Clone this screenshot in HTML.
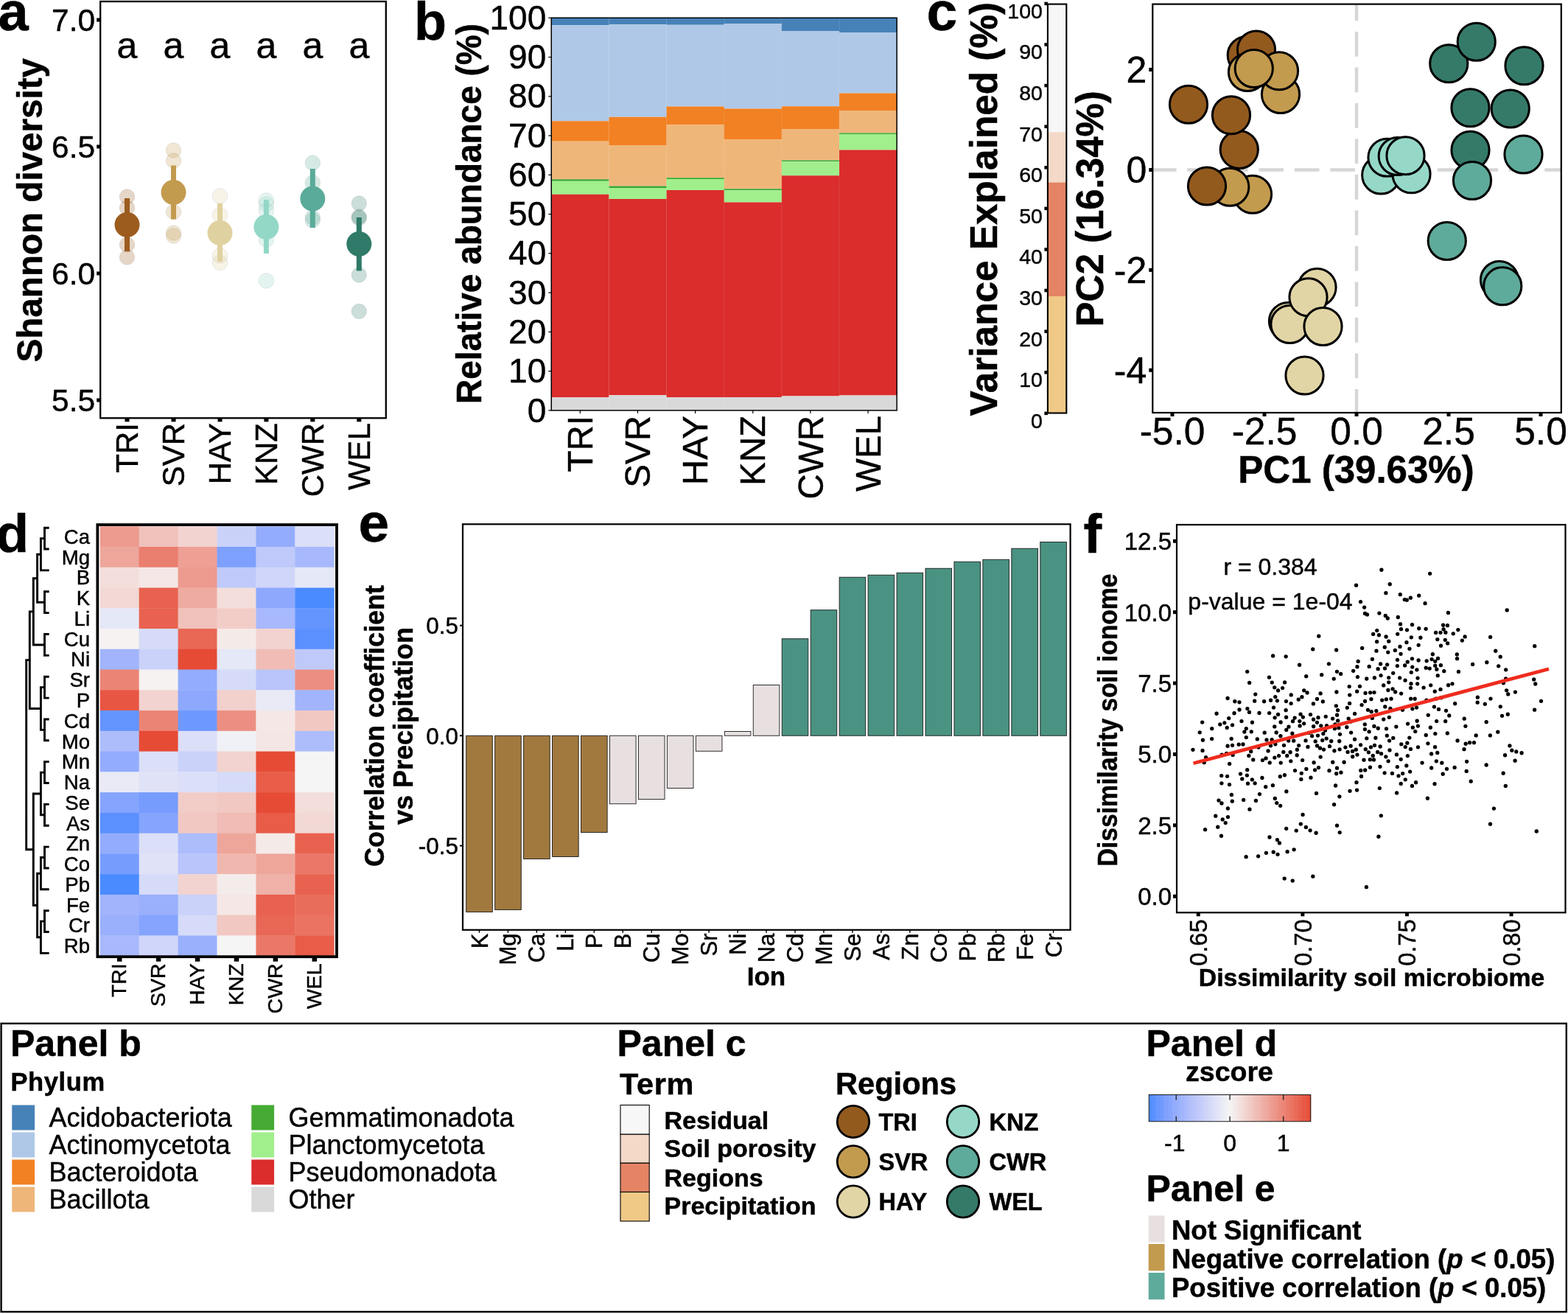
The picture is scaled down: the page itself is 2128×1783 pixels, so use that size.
<!DOCTYPE html>
<html lang="en">
<head>
<meta charset="utf-8">
<title>Soil microbiome and ionome figure</title>
<style>
html,body{margin:0;padding:0;background:#fff;}
body{width:2128px;height:1783px;overflow:hidden;}
svg{display:block;font-family:"Liberation Sans", Arial, Helvetica, sans-serif;}
svg text{font-family:"Liberation Sans", Arial, Helvetica, sans-serif;}
</style>
</head>
<body>
<svg width="2128" height="1783" viewBox="0 0 2128 1783">
<rect x="0" y="0" width="2128" height="1783" fill="#fff"/>
<rect x="136.2" y="2" width="387.6" height="565.3" fill="none" stroke="#000" stroke-width="2.3"/>
<text x="-2.5" y="41.3" font-size="74" font-weight="bold" stroke="#000" stroke-width="0.5">a</text>
<line x1="131.2" y1="27" x2="136.2" y2="27" stroke="#000" stroke-width="5"/>
<text x="129.2" y="41.6" font-size="42.5" text-anchor="end" stroke="#000" stroke-width="0.45">7.0</text>
<line x1="131.2" y1="199" x2="136.2" y2="199" stroke="#000" stroke-width="5"/>
<text x="129.2" y="213.6" font-size="42.5" text-anchor="end" stroke="#000" stroke-width="0.45">6.5</text>
<line x1="131.2" y1="371" x2="136.2" y2="371" stroke="#000" stroke-width="5"/>
<text x="129.2" y="385.6" font-size="42.5" text-anchor="end" stroke="#000" stroke-width="0.45">6.0</text>
<line x1="131.2" y1="543" x2="136.2" y2="543" stroke="#000" stroke-width="5"/>
<text x="129.2" y="557.6" font-size="42.5" text-anchor="end" stroke="#000" stroke-width="0.45">5.5</text>
<text x="57" y="285.2" font-size="47.6" font-weight="bold" text-anchor="middle" transform="rotate(-90 57 285.2)" stroke="#000" stroke-width="0.5">Shannon diversity</text>
<circle cx="172.5" cy="267" r="10.3" fill="#9c5c1e" stroke="#3a3a3a" stroke-width="0.8" fill-opacity="0.25" stroke-opacity="0.13"/>
<circle cx="172.5" cy="282" r="10.3" fill="#9c5c1e" stroke="#3a3a3a" stroke-width="0.8" fill-opacity="0.25" stroke-opacity="0.13"/>
<circle cx="172.5" cy="332" r="10.3" fill="#9c5c1e" stroke="#3a3a3a" stroke-width="0.8" fill-opacity="0.25" stroke-opacity="0.13"/>
<circle cx="172.5" cy="349" r="10.3" fill="#9c5c1e" stroke="#3a3a3a" stroke-width="0.8" fill-opacity="0.25" stroke-opacity="0.13"/>
<circle cx="235.5" cy="204" r="10.3" fill="#c39b4f" stroke="#3a3a3a" stroke-width="0.8" fill-opacity="0.25" stroke-opacity="0.13"/>
<circle cx="235.5" cy="218" r="10.3" fill="#c39b4f" stroke="#3a3a3a" stroke-width="0.8" fill-opacity="0.25" stroke-opacity="0.13"/>
<circle cx="235.5" cy="287.5" r="10.3" fill="#c39b4f" stroke="#3a3a3a" stroke-width="0.8" fill-opacity="0.25" stroke-opacity="0.13"/>
<circle cx="235.5" cy="316" r="10.3" fill="#c39b4f" stroke="#3a3a3a" stroke-width="0.8" fill-opacity="0.25" stroke-opacity="0.13"/>
<circle cx="235.5" cy="320" r="10.3" fill="#c39b4f" stroke="#3a3a3a" stroke-width="0.8" fill-opacity="0.25" stroke-opacity="0.13"/>
<circle cx="298.5" cy="266" r="10.3" fill="#e0d1a0" stroke="#3a3a3a" stroke-width="0.8" fill-opacity="0.25" stroke-opacity="0.13"/>
<circle cx="298.5" cy="292" r="10.3" fill="#e0d1a0" stroke="#3a3a3a" stroke-width="0.8" fill-opacity="0.25" stroke-opacity="0.13"/>
<circle cx="298.5" cy="347" r="10.3" fill="#e0d1a0" stroke="#3a3a3a" stroke-width="0.8" fill-opacity="0.25" stroke-opacity="0.13"/>
<circle cx="298.5" cy="356.5" r="10.3" fill="#e0d1a0" stroke="#3a3a3a" stroke-width="0.8" fill-opacity="0.25" stroke-opacity="0.13"/>
<circle cx="361.4" cy="272" r="10.3" fill="#93d7c6" stroke="#3a3a3a" stroke-width="0.8" fill-opacity="0.25" stroke-opacity="0.13"/>
<circle cx="361.4" cy="277" r="10.3" fill="#93d7c6" stroke="#3a3a3a" stroke-width="0.8" fill-opacity="0.25" stroke-opacity="0.13"/>
<circle cx="361.4" cy="286" r="10.3" fill="#93d7c6" stroke="#3a3a3a" stroke-width="0.8" fill-opacity="0.25" stroke-opacity="0.13"/>
<circle cx="361.4" cy="325" r="10.3" fill="#93d7c6" stroke="#3a3a3a" stroke-width="0.8" fill-opacity="0.25" stroke-opacity="0.13"/>
<circle cx="361.4" cy="381" r="10.3" fill="#93d7c6" stroke="#3a3a3a" stroke-width="0.8" fill-opacity="0.25" stroke-opacity="0.13"/>
<circle cx="424.3" cy="221" r="10.3" fill="#5aab99" stroke="#3a3a3a" stroke-width="0.8" fill-opacity="0.25" stroke-opacity="0.13"/>
<circle cx="424.3" cy="248" r="10.3" fill="#5aab99" stroke="#3a3a3a" stroke-width="0.8" fill-opacity="0.25" stroke-opacity="0.13"/>
<circle cx="424.3" cy="295" r="10.3" fill="#5aab99" stroke="#3a3a3a" stroke-width="0.8" fill-opacity="0.25" stroke-opacity="0.13"/>
<circle cx="424.3" cy="299" r="10.3" fill="#5aab99" stroke="#3a3a3a" stroke-width="0.8" fill-opacity="0.25" stroke-opacity="0.13"/>
<circle cx="487.3" cy="276" r="10.3" fill="#2f7a68" stroke="#3a3a3a" stroke-width="0.8" fill-opacity="0.25" stroke-opacity="0.13"/>
<circle cx="487.3" cy="294" r="10.3" fill="#2f7a68" stroke="#3a3a3a" stroke-width="0.8" fill-opacity="0.25" stroke-opacity="0.13"/>
<circle cx="487.3" cy="296" r="10.3" fill="#2f7a68" stroke="#3a3a3a" stroke-width="0.8" fill-opacity="0.25" stroke-opacity="0.13"/>
<circle cx="487.3" cy="373" r="10.3" fill="#2f7a68" stroke="#3a3a3a" stroke-width="0.8" fill-opacity="0.25" stroke-opacity="0.13"/>
<circle cx="487.3" cy="422.5" r="10.3" fill="#2f7a68" stroke="#3a3a3a" stroke-width="0.8" fill-opacity="0.25" stroke-opacity="0.13"/>
<rect x="169" y="269" width="7" height="72" fill="#9c5c1e"/>
<circle cx="172.5" cy="305" r="17" fill="#9c5c1e"/>
<text x="172.5" y="79" font-size="50" text-anchor="middle" stroke="#000" stroke-width="0.45">a</text>
<line x1="172.5" y1="567.3" x2="172.5" y2="572.3" stroke="#000" stroke-width="6"/>
<text x="187" y="574" font-size="42" text-anchor="end" transform="rotate(-90 187 574)" stroke="#000" stroke-width="0.45">TRI</text>
<rect x="232" y="224.5" width="7" height="73" fill="#c39b4f"/>
<circle cx="235.5" cy="261" r="17" fill="#c39b4f"/>
<text x="235.5" y="79" font-size="50" text-anchor="middle" stroke="#000" stroke-width="0.45">a</text>
<line x1="235.5" y1="567.3" x2="235.5" y2="572.3" stroke="#000" stroke-width="6"/>
<text x="250" y="574" font-size="42" text-anchor="end" transform="rotate(-90 250 574)" stroke="#000" stroke-width="0.45">SVR</text>
<rect x="295" y="276" width="7" height="79" fill="#e0d1a0"/>
<circle cx="298.5" cy="316" r="17" fill="#e0d1a0"/>
<text x="298.5" y="79" font-size="50" text-anchor="middle" stroke="#000" stroke-width="0.45">a</text>
<line x1="298.5" y1="567.3" x2="298.5" y2="572.3" stroke="#000" stroke-width="6"/>
<text x="313" y="574" font-size="42" text-anchor="end" transform="rotate(-90 313 574)" stroke="#000" stroke-width="0.45">HAY</text>
<rect x="357.9" y="271" width="7" height="73" fill="#93d7c6"/>
<circle cx="361.4" cy="308" r="17" fill="#93d7c6"/>
<text x="361.4" y="79" font-size="50" text-anchor="middle" stroke="#000" stroke-width="0.45">a</text>
<line x1="361.4" y1="567.3" x2="361.4" y2="572.3" stroke="#000" stroke-width="6"/>
<text x="375.9" y="574" font-size="42" text-anchor="end" transform="rotate(-90 375.9 574)" stroke="#000" stroke-width="0.45">KNZ</text>
<rect x="420.8" y="229" width="7" height="80" fill="#5aab99"/>
<circle cx="424.3" cy="269.5" r="17" fill="#5aab99"/>
<text x="424.3" y="79" font-size="50" text-anchor="middle" stroke="#000" stroke-width="0.45">a</text>
<line x1="424.3" y1="567.3" x2="424.3" y2="572.3" stroke="#000" stroke-width="6"/>
<text x="438.8" y="574" font-size="42" text-anchor="end" transform="rotate(-90 438.8 574)" stroke="#000" stroke-width="0.45">CWR</text>
<rect x="483.8" y="295" width="7" height="72.5" fill="#2f7a68"/>
<circle cx="487.3" cy="331" r="17" fill="#2f7a68"/>
<text x="487.3" y="79" font-size="50" text-anchor="middle" stroke="#000" stroke-width="0.45">a</text>
<line x1="487.3" y1="567.3" x2="487.3" y2="572.3" stroke="#000" stroke-width="6"/>
<text x="501.8" y="574" font-size="42" text-anchor="end" transform="rotate(-90 501.8 574)" stroke="#000" stroke-width="0.45">WEL</text>
<text x="562" y="53.5" font-size="72" font-weight="bold" stroke="#000" stroke-width="0.5">b</text>
<rect x="748.25" y="24.25" width="78.45" height="10" fill="#4682b8"/>
<rect x="748.25" y="34.25" width="78.45" height="130" fill="#afc8e8"/>
<rect x="748.25" y="164.25" width="78.45" height="27.5" fill="#f28123"/>
<rect x="748.25" y="191.75" width="78.45" height="51.5" fill="#efb67a"/>
<rect x="748.25" y="243.25" width="78.45" height="2.5" fill="#3aa535"/>
<rect x="748.25" y="245.75" width="78.45" height="18" fill="#a0ef8c"/>
<rect x="748.25" y="263.75" width="78.45" height="275.5" fill="#da2d2c"/>
<rect x="748.25" y="539.25" width="78.45" height="17.65" fill="#d9d9d9"/>
<rect x="826.4" y="24.25" width="78.45" height="9" fill="#4682b8"/>
<rect x="826.4" y="33.25" width="78.45" height="125.5" fill="#afc8e8"/>
<rect x="826.4" y="158.75" width="78.45" height="38.25" fill="#f28123"/>
<rect x="826.4" y="197" width="78.45" height="55.5" fill="#efb67a"/>
<rect x="826.4" y="252.5" width="78.45" height="2.5" fill="#3aa535"/>
<rect x="826.4" y="255" width="78.45" height="15" fill="#a0ef8c"/>
<rect x="826.4" y="270" width="78.45" height="266.25" fill="#da2d2c"/>
<rect x="826.4" y="536.25" width="78.45" height="20.65" fill="#d9d9d9"/>
<rect x="904.55" y="24.25" width="78.45" height="9.5" fill="#4682b8"/>
<rect x="904.55" y="33.75" width="78.45" height="110.75" fill="#afc8e8"/>
<rect x="904.55" y="144.5" width="78.45" height="24.75" fill="#f28123"/>
<rect x="904.55" y="169.25" width="78.45" height="72" fill="#efb67a"/>
<rect x="904.55" y="241.25" width="78.45" height="1.75" fill="#3aa535"/>
<rect x="904.55" y="243" width="78.45" height="15" fill="#a0ef8c"/>
<rect x="904.55" y="258" width="78.45" height="281.25" fill="#da2d2c"/>
<rect x="904.55" y="539.25" width="78.45" height="17.65" fill="#d9d9d9"/>
<rect x="982.7" y="24.25" width="78.45" height="7.75" fill="#4682b8"/>
<rect x="982.7" y="32" width="78.45" height="115.5" fill="#afc8e8"/>
<rect x="982.7" y="147.5" width="78.45" height="42" fill="#f28123"/>
<rect x="982.7" y="189.5" width="78.45" height="66.75" fill="#efb67a"/>
<rect x="982.7" y="256.25" width="78.45" height="2" fill="#3aa535"/>
<rect x="982.7" y="258.25" width="78.45" height="16.25" fill="#a0ef8c"/>
<rect x="982.7" y="274.5" width="78.45" height="264.5" fill="#da2d2c"/>
<rect x="982.7" y="539" width="78.45" height="17.9" fill="#d9d9d9"/>
<rect x="1060.85" y="24.25" width="78.45" height="17.75" fill="#4682b8"/>
<rect x="1060.85" y="42" width="78.45" height="102.25" fill="#afc8e8"/>
<rect x="1060.85" y="144.25" width="78.45" height="30.75" fill="#f28123"/>
<rect x="1060.85" y="175" width="78.45" height="42.5" fill="#efb67a"/>
<rect x="1060.85" y="217.5" width="78.45" height="1.75" fill="#3aa535"/>
<rect x="1060.85" y="219.25" width="78.45" height="19" fill="#a0ef8c"/>
<rect x="1060.85" y="238.25" width="78.45" height="299.25" fill="#da2d2c"/>
<rect x="1060.85" y="537.5" width="78.45" height="19.4" fill="#d9d9d9"/>
<rect x="1139" y="24.25" width="78.45" height="19.75" fill="#4682b8"/>
<rect x="1139" y="44" width="78.45" height="82.5" fill="#afc8e8"/>
<rect x="1139" y="126.5" width="78.45" height="23.5" fill="#f28123"/>
<rect x="1139" y="150" width="78.45" height="30.5" fill="#efb67a"/>
<rect x="1139" y="180.5" width="78.45" height="1.5" fill="#3aa535"/>
<rect x="1139" y="182" width="78.45" height="21.5" fill="#a0ef8c"/>
<rect x="1139" y="203.5" width="78.45" height="333" fill="#da2d2c"/>
<rect x="1139" y="536.5" width="78.45" height="20.4" fill="#d9d9d9"/>
<line x1="826.4" y1="24.25" x2="826.4" y2="556.9" stroke="#fff" stroke-width="0.6" stroke-opacity="0.18"/>
<line x1="904.55" y1="24.25" x2="904.55" y2="556.9" stroke="#fff" stroke-width="0.6" stroke-opacity="0.18"/>
<line x1="982.7" y1="24.25" x2="982.7" y2="556.9" stroke="#fff" stroke-width="0.6" stroke-opacity="0.18"/>
<line x1="1060.85" y1="24.25" x2="1060.85" y2="556.9" stroke="#fff" stroke-width="0.6" stroke-opacity="0.18"/>
<line x1="1139" y1="24.25" x2="1139" y2="556.9" stroke="#fff" stroke-width="0.6" stroke-opacity="0.18"/>
<rect x="748.25" y="24.25" width="468.9" height="532.65" fill="none" stroke="#000" stroke-width="1.5"/>
<line x1="744.25" y1="556.9" x2="748.25" y2="556.9" stroke="#000" stroke-width="1.2"/>
<text x="741.25" y="572.5" font-size="46" text-anchor="end" stroke="#000" stroke-width="0.45">0</text>
<line x1="744.25" y1="503.63" x2="748.25" y2="503.63" stroke="#000" stroke-width="1.2"/>
<text x="741.25" y="519.24" font-size="46" text-anchor="end" stroke="#000" stroke-width="0.45">10</text>
<line x1="744.25" y1="450.37" x2="748.25" y2="450.37" stroke="#000" stroke-width="1.2"/>
<text x="741.25" y="465.97" font-size="46" text-anchor="end" stroke="#000" stroke-width="0.45">20</text>
<line x1="744.25" y1="397.11" x2="748.25" y2="397.11" stroke="#000" stroke-width="1.2"/>
<text x="741.25" y="412.71" font-size="46" text-anchor="end" stroke="#000" stroke-width="0.45">30</text>
<line x1="744.25" y1="343.84" x2="748.25" y2="343.84" stroke="#000" stroke-width="1.2"/>
<text x="741.25" y="359.44" font-size="46" text-anchor="end" stroke="#000" stroke-width="0.45">40</text>
<line x1="744.25" y1="290.57" x2="748.25" y2="290.57" stroke="#000" stroke-width="1.2"/>
<text x="741.25" y="306.18" font-size="46" text-anchor="end" stroke="#000" stroke-width="0.45">50</text>
<line x1="744.25" y1="237.31" x2="748.25" y2="237.31" stroke="#000" stroke-width="1.2"/>
<text x="741.25" y="252.91" font-size="46" text-anchor="end" stroke="#000" stroke-width="0.45">60</text>
<line x1="744.25" y1="184.05" x2="748.25" y2="184.05" stroke="#000" stroke-width="1.2"/>
<text x="741.25" y="199.65" font-size="46" text-anchor="end" stroke="#000" stroke-width="0.45">70</text>
<line x1="744.25" y1="130.78" x2="748.25" y2="130.78" stroke="#000" stroke-width="1.2"/>
<text x="741.25" y="146.38" font-size="46" text-anchor="end" stroke="#000" stroke-width="0.45">80</text>
<line x1="744.25" y1="77.52" x2="748.25" y2="77.52" stroke="#000" stroke-width="1.2"/>
<text x="741.25" y="93.12" font-size="46" text-anchor="end" stroke="#000" stroke-width="0.45">90</text>
<line x1="744.25" y1="24.25" x2="748.25" y2="24.25" stroke="#000" stroke-width="1.2"/>
<text x="741.25" y="39.85" font-size="46" text-anchor="end" stroke="#000" stroke-width="0.45">100</text>
<text x="652.5" y="290" font-size="48" font-weight="bold" text-anchor="middle" transform="rotate(-90 652.5 290)" textLength="516" lengthAdjust="spacingAndGlyphs" stroke="#000" stroke-width="0.5">Relative abundance (%)</text>
<line x1="787.33" y1="556.9" x2="787.33" y2="560.9" stroke="#000" stroke-width="1.2"/>
<text x="803.93" y="564" font-size="47.5" text-anchor="end" transform="rotate(-90 803.93 564)" stroke="#000" stroke-width="0.45">TRI</text>
<line x1="865.48" y1="556.9" x2="865.48" y2="560.9" stroke="#000" stroke-width="1.2"/>
<text x="882.08" y="564" font-size="47.5" text-anchor="end" transform="rotate(-90 882.08 564)" stroke="#000" stroke-width="0.45">SVR</text>
<line x1="943.62" y1="556.9" x2="943.62" y2="560.9" stroke="#000" stroke-width="1.2"/>
<text x="960.23" y="564" font-size="47.5" text-anchor="end" transform="rotate(-90 960.23 564)" stroke="#000" stroke-width="0.45">HAY</text>
<line x1="1021.78" y1="556.9" x2="1021.78" y2="560.9" stroke="#000" stroke-width="1.2"/>
<text x="1038.38" y="564" font-size="47.5" text-anchor="end" transform="rotate(-90 1038.38 564)" stroke="#000" stroke-width="0.45">KNZ</text>
<line x1="1099.92" y1="556.9" x2="1099.92" y2="560.9" stroke="#000" stroke-width="1.2"/>
<text x="1116.52" y="564" font-size="47.5" text-anchor="end" transform="rotate(-90 1116.52 564)" stroke="#000" stroke-width="0.45">CWR</text>
<line x1="1178.08" y1="556.9" x2="1178.08" y2="560.9" stroke="#000" stroke-width="1.2"/>
<text x="1194.67" y="564" font-size="47.5" text-anchor="end" transform="rotate(-90 1194.67 564)" stroke="#000" stroke-width="0.45">WEL</text>
<text x="1257.5" y="41" font-size="75" font-weight="bold" stroke="#000" stroke-width="0.5">c</text>
<rect x="1421.9" y="5.6" width="25.4" height="173.65" fill="#f7f7f7"/>
<rect x="1421.9" y="179.25" width="25.4" height="68.25" fill="#f4d9c8"/>
<rect x="1421.9" y="247.5" width="25.4" height="154.5" fill="#e48465"/>
<rect x="1421.9" y="402" width="25.4" height="158.5" fill="#f0c987"/>
<rect x="1421.9" y="5.6" width="25.4" height="554.9" fill="none" stroke="#000" stroke-width="2.1"/>
<line x1="1417.4" y1="560.9" x2="1421.9" y2="560.9" stroke="#000" stroke-width="4.5"/>
<text x="1414.9" y="580.7" font-size="28.5" text-anchor="end" stroke="#000" stroke-width="0.45">0</text>
<line x1="1417.4" y1="505.3" x2="1421.9" y2="505.3" stroke="#000" stroke-width="4.5"/>
<text x="1414.9" y="525.1" font-size="28.5" text-anchor="end" stroke="#000" stroke-width="0.45">10</text>
<line x1="1417.4" y1="449.7" x2="1421.9" y2="449.7" stroke="#000" stroke-width="4.5"/>
<text x="1414.9" y="469.5" font-size="28.5" text-anchor="end" stroke="#000" stroke-width="0.45">20</text>
<line x1="1417.4" y1="394.1" x2="1421.9" y2="394.1" stroke="#000" stroke-width="4.5"/>
<text x="1414.9" y="413.9" font-size="28.5" text-anchor="end" stroke="#000" stroke-width="0.45">30</text>
<line x1="1417.4" y1="338.5" x2="1421.9" y2="338.5" stroke="#000" stroke-width="4.5"/>
<text x="1414.9" y="358.3" font-size="28.5" text-anchor="end" stroke="#000" stroke-width="0.45">40</text>
<line x1="1417.4" y1="282.9" x2="1421.9" y2="282.9" stroke="#000" stroke-width="4.5"/>
<text x="1414.9" y="302.7" font-size="28.5" text-anchor="end" stroke="#000" stroke-width="0.45">50</text>
<line x1="1417.4" y1="227.3" x2="1421.9" y2="227.3" stroke="#000" stroke-width="4.5"/>
<text x="1414.9" y="247.1" font-size="28.5" text-anchor="end" stroke="#000" stroke-width="0.45">60</text>
<line x1="1417.4" y1="171.7" x2="1421.9" y2="171.7" stroke="#000" stroke-width="4.5"/>
<text x="1414.9" y="191.5" font-size="28.5" text-anchor="end" stroke="#000" stroke-width="0.45">70</text>
<line x1="1417.4" y1="116.1" x2="1421.9" y2="116.1" stroke="#000" stroke-width="4.5"/>
<text x="1414.9" y="135.9" font-size="28.5" text-anchor="end" stroke="#000" stroke-width="0.45">80</text>
<line x1="1417.4" y1="60.5" x2="1421.9" y2="60.5" stroke="#000" stroke-width="4.5"/>
<text x="1414.9" y="80.3" font-size="28.5" text-anchor="end" stroke="#000" stroke-width="0.45">90</text>
<line x1="1417.4" y1="4.9" x2="1421.9" y2="4.9" stroke="#000" stroke-width="4.5"/>
<text x="1414.9" y="24.7" font-size="28.5" text-anchor="end" stroke="#000" stroke-width="0.45">100</text>
<text x="1353.5" y="283.7" font-size="51.3" font-weight="bold" text-anchor="middle" transform="rotate(-90 1353.5 283.7)" stroke="#000" stroke-width="0.5">Variance Explained (%)</text>
<text x="1497" y="283.3" font-size="51" font-weight="bold" text-anchor="middle" transform="rotate(-90 1497 283.3)" stroke="#000" stroke-width="0.5">PC2 (16.34%)</text>
<line x1="1564.3" y1="230.5" x2="2118.8" y2="230.5" stroke="#d6d6d6" stroke-width="4.5" stroke-dasharray="33.75 14.75" stroke-dashoffset="1.5"/>
<line x1="1841" y1="5.6" x2="1841" y2="560" stroke="#d6d6d6" stroke-width="4.5" stroke-dasharray="33.75 14.75" stroke-dashoffset="11.1"/>
<rect x="1564.3" y="5.6" width="554.5" height="554.4" fill="none" stroke="#000" stroke-width="2.2"/>
<line x1="1559.3" y1="94.5" x2="1564.3" y2="94.5" stroke="#000" stroke-width="5"/>
<text x="1556.3" y="112" font-size="50" text-anchor="end" stroke="#000" stroke-width="0.45">2</text>
<line x1="1559.3" y1="230.5" x2="1564.3" y2="230.5" stroke="#000" stroke-width="5"/>
<text x="1556.3" y="248" font-size="50" text-anchor="end" stroke="#000" stroke-width="0.45">0</text>
<line x1="1559.3" y1="366.4" x2="1564.3" y2="366.4" stroke="#000" stroke-width="5"/>
<text x="1556.3" y="383.9" font-size="50" text-anchor="end" stroke="#000" stroke-width="0.45">-2</text>
<line x1="1559.3" y1="502.3" x2="1564.3" y2="502.3" stroke="#000" stroke-width="5"/>
<text x="1556.3" y="519.8" font-size="50" text-anchor="end" stroke="#000" stroke-width="0.45">-4</text>
<line x1="1591" y1="560" x2="1591" y2="565" stroke="#000" stroke-width="5"/>
<text x="1591" y="603" font-size="51.5" text-anchor="middle" stroke="#000" stroke-width="0.45">-5.0</text>
<line x1="1716" y1="560" x2="1716" y2="565" stroke="#000" stroke-width="5"/>
<text x="1716" y="603" font-size="51.5" text-anchor="middle" stroke="#000" stroke-width="0.45">-2.5</text>
<line x1="1841" y1="560" x2="1841" y2="565" stroke="#000" stroke-width="5"/>
<text x="1841" y="603" font-size="51.5" text-anchor="middle" stroke="#000" stroke-width="0.45">0.0</text>
<line x1="1966" y1="560" x2="1966" y2="565" stroke="#000" stroke-width="5"/>
<text x="1966" y="603" font-size="51.5" text-anchor="middle" stroke="#000" stroke-width="0.45">2.5</text>
<line x1="2091" y1="560" x2="2091" y2="565" stroke="#000" stroke-width="5"/>
<text x="2091" y="603" font-size="51.5" text-anchor="middle" stroke="#000" stroke-width="0.45">5.0</text>
<text x="1840.5" y="655" font-size="51" font-weight="bold" text-anchor="middle" stroke="#000" stroke-width="0.5">PC1 (39.63%)</text>
<circle cx="1700" cy="263.75" r="25.6" fill="#c39b4f" stroke="#000" stroke-width="3"/>
<circle cx="1669.25" cy="253.75" r="25.6" fill="#c39b4f" stroke="#000" stroke-width="3"/>
<circle cx="1638" cy="252.5" r="25.6" fill="#935a1e" stroke="#000" stroke-width="3"/>
<circle cx="1681.75" cy="203" r="25.6" fill="#935a1e" stroke="#000" stroke-width="3"/>
<circle cx="1671" cy="156.25" r="25.6" fill="#935a1e" stroke="#000" stroke-width="3"/>
<circle cx="1613" cy="141.75" r="25.6" fill="#935a1e" stroke="#000" stroke-width="3"/>
<circle cx="1738" cy="128" r="25.6" fill="#c39b4f" stroke="#000" stroke-width="3"/>
<circle cx="1691.75" cy="75" r="25.6" fill="#935a1e" stroke="#000" stroke-width="3"/>
<circle cx="1705" cy="67.5" r="25.6" fill="#935a1e" stroke="#000" stroke-width="3"/>
<circle cx="1693" cy="98" r="25.6" fill="#c39b4f" stroke="#000" stroke-width="3"/>
<circle cx="1736" cy="96.25" r="25.6" fill="#c39b4f" stroke="#000" stroke-width="3"/>
<circle cx="1701.75" cy="93" r="25.6" fill="#c39b4f" stroke="#000" stroke-width="3"/>
<circle cx="1787.5" cy="390" r="25.6" fill="#e2d5a5" stroke="#000" stroke-width="3"/>
<circle cx="1748" cy="436" r="25.6" fill="#e2d5a5" stroke="#000" stroke-width="3"/>
<circle cx="1750.5" cy="440" r="25.6" fill="#e2d5a5" stroke="#000" stroke-width="3"/>
<circle cx="1775.5" cy="403.25" r="25.6" fill="#e2d5a5" stroke="#000" stroke-width="3"/>
<circle cx="1795.5" cy="443" r="25.6" fill="#e2d5a5" stroke="#000" stroke-width="3"/>
<circle cx="1770.5" cy="509.5" r="25.6" fill="#e2d5a5" stroke="#000" stroke-width="3"/>
<circle cx="1874.25" cy="237.5" r="25.6" fill="#96d8c8" stroke="#000" stroke-width="3"/>
<circle cx="1915.5" cy="236.25" r="25.6" fill="#96d8c8" stroke="#000" stroke-width="3"/>
<circle cx="1882.5" cy="213.75" r="25.6" fill="#96d8c8" stroke="#000" stroke-width="3"/>
<circle cx="1896.75" cy="212" r="25.6" fill="#96d8c8" stroke="#000" stroke-width="3"/>
<circle cx="1907.5" cy="211.25" r="25.6" fill="#96d8c8" stroke="#000" stroke-width="3"/>
<circle cx="1966.25" cy="86.25" r="25.6" fill="#357a69" stroke="#000" stroke-width="3"/>
<circle cx="2003.75" cy="56.75" r="25.6" fill="#357a69" stroke="#000" stroke-width="3"/>
<circle cx="2068.5" cy="89.25" r="25.6" fill="#357a69" stroke="#000" stroke-width="3"/>
<circle cx="1995.5" cy="146.25" r="25.6" fill="#357a69" stroke="#000" stroke-width="3"/>
<circle cx="2049.75" cy="147.5" r="25.6" fill="#357a69" stroke="#000" stroke-width="3"/>
<circle cx="1995.5" cy="203.75" r="25.6" fill="#357a69" stroke="#000" stroke-width="3"/>
<circle cx="2067.5" cy="209.5" r="25.6" fill="#5fab9b" stroke="#000" stroke-width="3"/>
<circle cx="1998" cy="245" r="25.6" fill="#5fab9b" stroke="#000" stroke-width="3"/>
<circle cx="1963.75" cy="327" r="25.6" fill="#5fab9b" stroke="#000" stroke-width="3"/>
<circle cx="2035" cy="380" r="25.6" fill="#5fab9b" stroke="#000" stroke-width="3"/>
<circle cx="2039.25" cy="388.25" r="25.6" fill="#5fab9b" stroke="#000" stroke-width="3"/>
<text x="-5.5" y="748.5" font-size="73" font-weight="bold" stroke="#000" stroke-width="0.5">d</text>
<rect x="135.75" y="714.25" width="53.32" height="28.16" fill="#ed9a8f"/>
<rect x="188.67" y="714.25" width="53.32" height="28.16" fill="#f0c2bb"/>
<rect x="241.59" y="714.25" width="53.32" height="28.16" fill="#f2d3cf"/>
<rect x="294.51" y="714.25" width="53.32" height="28.16" fill="#cad2f9"/>
<rect x="347.43" y="714.25" width="53.32" height="28.16" fill="#94acfd"/>
<rect x="400.35" y="714.25" width="53.32" height="28.16" fill="#dbdff8"/>
<rect x="135.75" y="742.01" width="53.32" height="28.16" fill="#eea69b"/>
<rect x="188.67" y="742.01" width="53.32" height="28.16" fill="#ea7e6f"/>
<rect x="241.59" y="742.01" width="53.32" height="28.16" fill="#eea095"/>
<rect x="294.51" y="742.01" width="53.32" height="28.16" fill="#7ea0fe"/>
<rect x="347.43" y="742.01" width="53.32" height="28.16" fill="#bfc9fa"/>
<rect x="400.35" y="742.01" width="53.32" height="28.16" fill="#a7b9fc"/>
<rect x="135.75" y="769.77" width="53.32" height="28.16" fill="#f3dedb"/>
<rect x="188.67" y="769.77" width="53.32" height="28.16" fill="#f4e7e6"/>
<rect x="241.59" y="769.77" width="53.32" height="28.16" fill="#ed9a8f"/>
<rect x="294.51" y="769.77" width="53.32" height="28.16" fill="#bfc9fa"/>
<rect x="347.43" y="769.77" width="53.32" height="28.16" fill="#d0d6f9"/>
<rect x="400.35" y="769.77" width="53.32" height="28.16" fill="#e5e8f7"/>
<rect x="135.75" y="797.53" width="53.32" height="28.16" fill="#f2d9d5"/>
<rect x="188.67" y="797.53" width="53.32" height="28.16" fill="#e8624f"/>
<rect x="241.59" y="797.53" width="53.32" height="28.16" fill="#eeaba2"/>
<rect x="294.51" y="797.53" width="53.32" height="28.16" fill="#f3dedb"/>
<rect x="347.43" y="797.53" width="53.32" height="28.16" fill="#8da8fd"/>
<rect x="400.35" y="797.53" width="53.32" height="28.16" fill="#4a8bff"/>
<rect x="135.75" y="825.29" width="53.32" height="28.16" fill="#e5e8f7"/>
<rect x="188.67" y="825.29" width="53.32" height="28.16" fill="#e8624f"/>
<rect x="241.59" y="825.29" width="53.32" height="28.16" fill="#f0c2bb"/>
<rect x="294.51" y="825.29" width="53.32" height="28.16" fill="#f2cdc8"/>
<rect x="347.43" y="825.29" width="53.32" height="28.16" fill="#a7b9fc"/>
<rect x="400.35" y="825.29" width="53.32" height="28.16" fill="#6494fe"/>
<rect x="135.75" y="853.05" width="53.32" height="28.16" fill="#f5f2f1"/>
<rect x="188.67" y="853.05" width="53.32" height="28.16" fill="#d5dbf8"/>
<rect x="241.59" y="853.05" width="53.32" height="28.16" fill="#e86755"/>
<rect x="294.51" y="853.05" width="53.32" height="28.16" fill="#f4eae8"/>
<rect x="347.43" y="853.05" width="53.32" height="28.16" fill="#f2d3cf"/>
<rect x="400.35" y="853.05" width="53.32" height="28.16" fill="#5a90ff"/>
<rect x="135.75" y="880.81" width="53.32" height="28.16" fill="#a1b4fc"/>
<rect x="188.67" y="880.81" width="53.32" height="28.16" fill="#cad2f9"/>
<rect x="241.59" y="880.81" width="53.32" height="28.16" fill="#e64b35"/>
<rect x="294.51" y="880.81" width="53.32" height="28.16" fill="#e5e8f7"/>
<rect x="347.43" y="880.81" width="53.32" height="28.16" fill="#f0bcb5"/>
<rect x="400.35" y="880.81" width="53.32" height="28.16" fill="#bfc9fa"/>
<rect x="135.75" y="908.57" width="53.32" height="28.16" fill="#eb8475"/>
<rect x="188.67" y="908.57" width="53.32" height="28.16" fill="#f5f2f1"/>
<rect x="241.59" y="908.57" width="53.32" height="28.16" fill="#94acfd"/>
<rect x="294.51" y="908.57" width="53.32" height="28.16" fill="#d5dbf8"/>
<rect x="347.43" y="908.57" width="53.32" height="28.16" fill="#b9c5fb"/>
<rect x="400.35" y="908.57" width="53.32" height="28.16" fill="#ec8f82"/>
<rect x="135.75" y="936.33" width="53.32" height="28.16" fill="#e75642"/>
<rect x="188.67" y="936.33" width="53.32" height="28.16" fill="#f2d3cf"/>
<rect x="241.59" y="936.33" width="53.32" height="28.16" fill="#8da8fd"/>
<rect x="294.51" y="936.33" width="53.32" height="28.16" fill="#f2d0cb"/>
<rect x="347.43" y="936.33" width="53.32" height="28.16" fill="#e9eaf6"/>
<rect x="400.35" y="936.33" width="53.32" height="28.16" fill="#a1b4fc"/>
<rect x="135.75" y="964.09" width="53.32" height="28.16" fill="#6494fe"/>
<rect x="188.67" y="964.09" width="53.32" height="28.16" fill="#eb8475"/>
<rect x="241.59" y="964.09" width="53.32" height="28.16" fill="#6d98fe"/>
<rect x="294.51" y="964.09" width="53.32" height="28.16" fill="#ec8f82"/>
<rect x="347.43" y="964.09" width="53.32" height="28.16" fill="#f4e7e6"/>
<rect x="400.35" y="964.09" width="53.32" height="28.16" fill="#f1c8c2"/>
<rect x="135.75" y="991.85" width="53.32" height="28.16" fill="#adbdfb"/>
<rect x="188.67" y="991.85" width="53.32" height="28.16" fill="#e64b35"/>
<rect x="241.59" y="991.85" width="53.32" height="28.16" fill="#dbdff8"/>
<rect x="294.51" y="991.85" width="53.32" height="28.16" fill="#f0f1f6"/>
<rect x="347.43" y="991.85" width="53.32" height="28.16" fill="#f4e6e4"/>
<rect x="400.35" y="991.85" width="53.32" height="28.16" fill="#adbdfb"/>
<rect x="135.75" y="1019.61" width="53.32" height="28.16" fill="#94acfd"/>
<rect x="188.67" y="1019.61" width="53.32" height="28.16" fill="#dbdff8"/>
<rect x="241.59" y="1019.61" width="53.32" height="28.16" fill="#cad2f9"/>
<rect x="294.51" y="1019.61" width="53.32" height="28.16" fill="#f2d3cf"/>
<rect x="347.43" y="1019.61" width="53.32" height="28.16" fill="#e64b35"/>
<rect x="400.35" y="1019.61" width="53.32" height="28.16" fill="#f5f5f5"/>
<rect x="135.75" y="1047.37" width="53.32" height="28.16" fill="#e9eaf6"/>
<rect x="188.67" y="1047.37" width="53.32" height="28.16" fill="#e0e3f7"/>
<rect x="241.59" y="1047.37" width="53.32" height="28.16" fill="#dbdff8"/>
<rect x="294.51" y="1047.37" width="53.32" height="28.16" fill="#d5dbf8"/>
<rect x="347.43" y="1047.37" width="53.32" height="28.16" fill="#e85c48"/>
<rect x="400.35" y="1047.37" width="53.32" height="28.16" fill="#f5f5f5"/>
<rect x="135.75" y="1075.13" width="53.32" height="28.16" fill="#85a4fd"/>
<rect x="188.67" y="1075.13" width="53.32" height="28.16" fill="#769cfe"/>
<rect x="241.59" y="1075.13" width="53.32" height="28.16" fill="#f2cdc8"/>
<rect x="294.51" y="1075.13" width="53.32" height="28.16" fill="#f1c8c2"/>
<rect x="347.43" y="1075.13" width="53.32" height="28.16" fill="#e64b35"/>
<rect x="400.35" y="1075.13" width="53.32" height="28.16" fill="#f3dedb"/>
<rect x="135.75" y="1102.89" width="53.32" height="28.16" fill="#5a90ff"/>
<rect x="188.67" y="1102.89" width="53.32" height="28.16" fill="#85a4fd"/>
<rect x="241.59" y="1102.89" width="53.32" height="28.16" fill="#f1c8c2"/>
<rect x="294.51" y="1102.89" width="53.32" height="28.16" fill="#f0bcb5"/>
<rect x="347.43" y="1102.89" width="53.32" height="28.16" fill="#e85c48"/>
<rect x="400.35" y="1102.89" width="53.32" height="28.16" fill="#f2d9d5"/>
<rect x="135.75" y="1130.65" width="53.32" height="28.16" fill="#94acfd"/>
<rect x="188.67" y="1130.65" width="53.32" height="28.16" fill="#dbdff8"/>
<rect x="241.59" y="1130.65" width="53.32" height="28.16" fill="#adbdfb"/>
<rect x="294.51" y="1130.65" width="53.32" height="28.16" fill="#eea69b"/>
<rect x="347.43" y="1130.65" width="53.32" height="28.16" fill="#f4eae8"/>
<rect x="400.35" y="1130.65" width="53.32" height="28.16" fill="#e8624f"/>
<rect x="135.75" y="1158.41" width="53.32" height="28.16" fill="#769cfe"/>
<rect x="188.67" y="1158.41" width="53.32" height="28.16" fill="#e0e3f7"/>
<rect x="241.59" y="1158.41" width="53.32" height="28.16" fill="#b9c5fb"/>
<rect x="294.51" y="1158.41" width="53.32" height="28.16" fill="#f0b7af"/>
<rect x="347.43" y="1158.41" width="53.32" height="28.16" fill="#eea69b"/>
<rect x="400.35" y="1158.41" width="53.32" height="28.16" fill="#ea7868"/>
<rect x="135.75" y="1186.17" width="53.32" height="28.16" fill="#4a8bff"/>
<rect x="188.67" y="1186.17" width="53.32" height="28.16" fill="#d5dbf8"/>
<rect x="241.59" y="1186.17" width="53.32" height="28.16" fill="#f2d3cf"/>
<rect x="294.51" y="1186.17" width="53.32" height="28.16" fill="#f4eceb"/>
<rect x="347.43" y="1186.17" width="53.32" height="28.16" fill="#efb1a8"/>
<rect x="400.35" y="1186.17" width="53.32" height="28.16" fill="#e8624f"/>
<rect x="135.75" y="1213.93" width="53.32" height="28.16" fill="#a1b4fc"/>
<rect x="188.67" y="1213.93" width="53.32" height="28.16" fill="#9ab0fc"/>
<rect x="241.59" y="1213.93" width="53.32" height="28.16" fill="#cad2f9"/>
<rect x="294.51" y="1213.93" width="53.32" height="28.16" fill="#f4e7e6"/>
<rect x="347.43" y="1213.93" width="53.32" height="28.16" fill="#e8624f"/>
<rect x="400.35" y="1213.93" width="53.32" height="28.16" fill="#e96d5b"/>
<rect x="135.75" y="1241.69" width="53.32" height="28.16" fill="#9ab0fc"/>
<rect x="188.67" y="1241.69" width="53.32" height="28.16" fill="#85a4fd"/>
<rect x="241.59" y="1241.69" width="53.32" height="28.16" fill="#d5dbf8"/>
<rect x="294.51" y="1241.69" width="53.32" height="28.16" fill="#f1c8c2"/>
<rect x="347.43" y="1241.69" width="53.32" height="28.16" fill="#e86755"/>
<rect x="400.35" y="1241.69" width="53.32" height="28.16" fill="#ea7362"/>
<rect x="135.75" y="1269.45" width="53.32" height="28.16" fill="#a7b9fc"/>
<rect x="188.67" y="1269.45" width="53.32" height="28.16" fill="#d0d6f9"/>
<rect x="241.59" y="1269.45" width="53.32" height="28.16" fill="#9ab0fc"/>
<rect x="294.51" y="1269.45" width="53.32" height="28.16" fill="#f5f5f5"/>
<rect x="347.43" y="1269.45" width="53.32" height="28.16" fill="#ea7868"/>
<rect x="400.35" y="1269.45" width="53.32" height="28.16" fill="#e85c48"/>
<rect x="132.35" y="712.05" width="324.62" height="586.16" fill="none" stroke="#000" stroke-width="3.8"/>
<text x="122" y="737.93" font-size="27.5" text-anchor="end" stroke="#000" stroke-width="0.45">Ca</text>
<text x="122" y="765.69" font-size="27.5" text-anchor="end" stroke="#000" stroke-width="0.45">Mg</text>
<text x="122" y="793.45" font-size="27.5" text-anchor="end" stroke="#000" stroke-width="0.45">B</text>
<text x="122" y="821.21" font-size="27.5" text-anchor="end" stroke="#000" stroke-width="0.45">K</text>
<text x="122" y="848.97" font-size="27.5" text-anchor="end" stroke="#000" stroke-width="0.45">Li</text>
<text x="122" y="876.73" font-size="27.5" text-anchor="end" stroke="#000" stroke-width="0.45">Cu</text>
<text x="122" y="904.49" font-size="27.5" text-anchor="end" stroke="#000" stroke-width="0.45">Ni</text>
<text x="122" y="932.25" font-size="27.5" text-anchor="end" stroke="#000" stroke-width="0.45">Sr</text>
<text x="122" y="960.01" font-size="27.5" text-anchor="end" stroke="#000" stroke-width="0.45">P</text>
<text x="122" y="987.77" font-size="27.5" text-anchor="end" stroke="#000" stroke-width="0.45">Cd</text>
<text x="122" y="1015.53" font-size="27.5" text-anchor="end" stroke="#000" stroke-width="0.45">Mo</text>
<text x="122" y="1043.29" font-size="27.5" text-anchor="end" stroke="#000" stroke-width="0.45">Mn</text>
<text x="122" y="1071.05" font-size="27.5" text-anchor="end" stroke="#000" stroke-width="0.45">Na</text>
<text x="122" y="1098.81" font-size="27.5" text-anchor="end" stroke="#000" stroke-width="0.45">Se</text>
<text x="122" y="1126.57" font-size="27.5" text-anchor="end" stroke="#000" stroke-width="0.45">As</text>
<text x="122" y="1154.33" font-size="27.5" text-anchor="end" stroke="#000" stroke-width="0.45">Zn</text>
<text x="122" y="1182.09" font-size="27.5" text-anchor="end" stroke="#000" stroke-width="0.45">Co</text>
<text x="122" y="1209.85" font-size="27.5" text-anchor="end" stroke="#000" stroke-width="0.45">Pb</text>
<text x="122" y="1237.61" font-size="27.5" text-anchor="end" stroke="#000" stroke-width="0.45">Fe</text>
<text x="122" y="1265.37" font-size="27.5" text-anchor="end" stroke="#000" stroke-width="0.45">Cr</text>
<text x="122" y="1293.13" font-size="27.5" text-anchor="end" stroke="#000" stroke-width="0.45">Rb</text>
<line x1="162.21" y1="1298.71" x2="162.21" y2="1304.71" stroke="#000" stroke-width="6.5"/>
<text x="171.01" y="1307.3" font-size="28.5" text-anchor="end" transform="rotate(-90 171.01 1307.3)" stroke="#000" stroke-width="0.45">TRI</text>
<line x1="215.13" y1="1298.71" x2="215.13" y2="1304.71" stroke="#000" stroke-width="6.5"/>
<text x="223.93" y="1307.3" font-size="28.5" text-anchor="end" transform="rotate(-90 223.93 1307.3)" stroke="#000" stroke-width="0.45">SVR</text>
<line x1="268.05" y1="1298.71" x2="268.05" y2="1304.71" stroke="#000" stroke-width="6.5"/>
<text x="276.85" y="1307.3" font-size="28.5" text-anchor="end" transform="rotate(-90 276.85 1307.3)" stroke="#000" stroke-width="0.45">HAY</text>
<line x1="320.97" y1="1298.71" x2="320.97" y2="1304.71" stroke="#000" stroke-width="6.5"/>
<text x="329.77" y="1307.3" font-size="28.5" text-anchor="end" transform="rotate(-90 329.77 1307.3)" stroke="#000" stroke-width="0.45">KNZ</text>
<line x1="373.89" y1="1298.71" x2="373.89" y2="1304.71" stroke="#000" stroke-width="6.5"/>
<text x="382.69" y="1307.3" font-size="28.5" text-anchor="end" transform="rotate(-90 382.69 1307.3)" stroke="#000" stroke-width="0.45">CWR</text>
<line x1="426.81" y1="1298.71" x2="426.81" y2="1304.71" stroke="#000" stroke-width="6.5"/>
<text x="435.61" y="1307.3" font-size="28.5" text-anchor="end" transform="rotate(-90 435.61 1307.3)" stroke="#000" stroke-width="0.45">WEL</text>
<path d="M60.5 716.2L65.2 716.2M60.5 745.06L65.2 745.06M60.5 716.2L60.5 745.06M55.4 730.63L60.5 730.63M55.4 773.92L65.2 773.92M55.4 730.63L55.4 773.92M60.5 802.78L65.2 802.78M60.5 831.64L65.2 831.64M60.5 802.78L60.5 831.64M50.6 752.28L55.4 752.28M50.6 817.21L60.5 817.21M50.6 752.28L50.6 817.21M60.5 860.5L65.2 860.5M60.5 889.36L65.2 889.36M60.5 860.5L60.5 889.36M45.3 784.74L50.6 784.74M45.3 874.93L60.5 874.93M45.3 784.74L45.3 874.93M60.5 918.22L65.2 918.22M60.5 947.08L65.2 947.08M60.5 918.22L60.5 947.08M60.5 975.94L65.2 975.94M60.5 1004.8L65.2 1004.8M60.5 975.94L60.5 1004.8M55.4 932.65L60.5 932.65M55.4 990.37L60.5 990.37M55.4 932.65L55.4 990.37M40.3 829.84L45.3 829.84M40.3 961.51L55.4 961.51M40.3 829.84L40.3 961.51M60.5 1033.66L65.2 1033.66M60.5 1062.52L65.2 1062.52M60.5 1033.66L60.5 1062.52M60.5 1091.38L65.2 1091.38M60.5 1120.24L65.2 1120.24M60.5 1091.38L60.5 1120.24M55.4 1048.09L60.5 1048.09M55.4 1105.81L60.5 1105.81M55.4 1048.09L55.4 1105.81M60.5 1149.1L65.2 1149.1M60.5 1177.96L65.2 1177.96M60.5 1149.1L60.5 1177.96M55.4 1163.53L60.5 1163.53M55.4 1206.82L65.2 1206.82M55.4 1163.53L55.4 1206.82M60.5 1235.68L65.2 1235.68M60.5 1264.54L65.2 1264.54M60.5 1235.68L60.5 1264.54M55.4 1250.11L60.5 1250.11M55.4 1293.4L65.2 1293.4M55.4 1250.11L55.4 1293.4M50.6 1185.18L55.4 1185.18M50.6 1271.76L55.4 1271.76M50.6 1185.18L50.6 1271.76M45.3 1076.95L55.4 1076.95M45.3 1228.47L50.6 1228.47M45.3 1076.95L45.3 1228.47M35.7 895.67L40.3 895.67M35.7 1152.71L45.3 1152.71M35.7 895.67L35.7 1152.71" fill="none" stroke="#000" stroke-width="2.9" stroke-linecap="square"/>
<text x="486.5" y="735" font-size="75" font-weight="bold" stroke="#000" stroke-width="0.5">e</text>
<rect x="632.7" y="998.25" width="35.6" height="239.25" fill="#a1793f" stroke="#1a1a1a" stroke-width="0.9"/>
<line x1="650.5" y1="1261.8" x2="650.5" y2="1265.8" stroke="#000" stroke-width="1.5"/>
<text x="661.5" y="1266.5" font-size="31" text-anchor="end" transform="rotate(-90 661.5 1266.5)" stroke="#000" stroke-width="0.45">K</text>
<rect x="671.66" y="998.25" width="35.6" height="236.25" fill="#a1793f" stroke="#1a1a1a" stroke-width="0.9"/>
<line x1="689.46" y1="1261.8" x2="689.46" y2="1265.8" stroke="#000" stroke-width="1.5"/>
<text x="700.46" y="1266.5" font-size="31" text-anchor="end" transform="rotate(-90 700.46 1266.5)" stroke="#000" stroke-width="0.45">Mg</text>
<rect x="710.61" y="998.25" width="35.6" height="167.25" fill="#a1793f" stroke="#1a1a1a" stroke-width="0.9"/>
<line x1="728.41" y1="1261.8" x2="728.41" y2="1265.8" stroke="#000" stroke-width="1.5"/>
<text x="739.41" y="1266.5" font-size="31" text-anchor="end" transform="rotate(-90 739.41 1266.5)" stroke="#000" stroke-width="0.45">Ca</text>
<rect x="749.57" y="998.25" width="35.6" height="164.25" fill="#a1793f" stroke="#1a1a1a" stroke-width="0.9"/>
<line x1="767.37" y1="1261.8" x2="767.37" y2="1265.8" stroke="#000" stroke-width="1.5"/>
<text x="778.37" y="1266.5" font-size="31" text-anchor="end" transform="rotate(-90 778.37 1266.5)" stroke="#000" stroke-width="0.45">Li</text>
<rect x="788.52" y="998.25" width="35.6" height="131.25" fill="#a1793f" stroke="#1a1a1a" stroke-width="0.9"/>
<line x1="806.32" y1="1261.8" x2="806.32" y2="1265.8" stroke="#000" stroke-width="1.5"/>
<text x="817.32" y="1266.5" font-size="31" text-anchor="end" transform="rotate(-90 817.32 1266.5)" stroke="#000" stroke-width="0.45">P</text>
<rect x="827.48" y="998.25" width="35.6" height="92.5" fill="#e8e0e0" stroke="#1a1a1a" stroke-width="0.9"/>
<line x1="845.27" y1="1261.8" x2="845.27" y2="1265.8" stroke="#000" stroke-width="1.5"/>
<text x="856.27" y="1266.5" font-size="31" text-anchor="end" transform="rotate(-90 856.27 1266.5)" stroke="#000" stroke-width="0.45">B</text>
<rect x="866.43" y="998.25" width="35.6" height="86.25" fill="#e8e0e0" stroke="#1a1a1a" stroke-width="0.9"/>
<line x1="884.23" y1="1261.8" x2="884.23" y2="1265.8" stroke="#000" stroke-width="1.5"/>
<text x="895.23" y="1266.5" font-size="31" text-anchor="end" transform="rotate(-90 895.23 1266.5)" stroke="#000" stroke-width="0.45">Cu</text>
<rect x="905.38" y="998.25" width="35.6" height="71.25" fill="#e8e0e0" stroke="#1a1a1a" stroke-width="0.9"/>
<line x1="923.18" y1="1261.8" x2="923.18" y2="1265.8" stroke="#000" stroke-width="1.5"/>
<text x="934.18" y="1266.5" font-size="31" text-anchor="end" transform="rotate(-90 934.18 1266.5)" stroke="#000" stroke-width="0.45">Mo</text>
<rect x="944.34" y="998.25" width="35.6" height="21" fill="#e8e0e0" stroke="#1a1a1a" stroke-width="0.9"/>
<line x1="962.14" y1="1261.8" x2="962.14" y2="1265.8" stroke="#000" stroke-width="1.5"/>
<text x="973.14" y="1266.5" font-size="31" text-anchor="end" transform="rotate(-90 973.14 1266.5)" stroke="#000" stroke-width="0.45">Sr</text>
<rect x="983.3" y="992.5" width="35.6" height="5.75" fill="#e8e0e0" stroke="#1a1a1a" stroke-width="0.9"/>
<line x1="1001.1" y1="1261.8" x2="1001.1" y2="1265.8" stroke="#000" stroke-width="1.5"/>
<text x="1012.1" y="1266.5" font-size="31" text-anchor="end" transform="rotate(-90 1012.1 1266.5)" stroke="#000" stroke-width="0.45">Ni</text>
<rect x="1022.25" y="929.5" width="35.6" height="68.75" fill="#e8e0e0" stroke="#1a1a1a" stroke-width="0.9"/>
<line x1="1040.05" y1="1261.8" x2="1040.05" y2="1265.8" stroke="#000" stroke-width="1.5"/>
<text x="1051.05" y="1266.5" font-size="31" text-anchor="end" transform="rotate(-90 1051.05 1266.5)" stroke="#000" stroke-width="0.45">Na</text>
<rect x="1061.21" y="866.75" width="35.6" height="131.5" fill="#4a9282" stroke="#1a1a1a" stroke-width="0.9"/>
<line x1="1079.01" y1="1261.8" x2="1079.01" y2="1265.8" stroke="#000" stroke-width="1.5"/>
<text x="1090.01" y="1266.5" font-size="31" text-anchor="end" transform="rotate(-90 1090.01 1266.5)" stroke="#000" stroke-width="0.45">Cd</text>
<rect x="1100.16" y="827.75" width="35.6" height="170.5" fill="#4a9282" stroke="#1a1a1a" stroke-width="0.9"/>
<line x1="1117.96" y1="1261.8" x2="1117.96" y2="1265.8" stroke="#000" stroke-width="1.5"/>
<text x="1128.96" y="1266.5" font-size="31" text-anchor="end" transform="rotate(-90 1128.96 1266.5)" stroke="#000" stroke-width="0.45">Mn</text>
<rect x="1139.12" y="783.25" width="35.6" height="215" fill="#4a9282" stroke="#1a1a1a" stroke-width="0.9"/>
<line x1="1156.91" y1="1261.8" x2="1156.91" y2="1265.8" stroke="#000" stroke-width="1.5"/>
<text x="1167.91" y="1266.5" font-size="31" text-anchor="end" transform="rotate(-90 1167.91 1266.5)" stroke="#000" stroke-width="0.45">Se</text>
<rect x="1178.07" y="780.25" width="35.6" height="218" fill="#4a9282" stroke="#1a1a1a" stroke-width="0.9"/>
<line x1="1195.87" y1="1261.8" x2="1195.87" y2="1265.8" stroke="#000" stroke-width="1.5"/>
<text x="1206.87" y="1266.5" font-size="31" text-anchor="end" transform="rotate(-90 1206.87 1266.5)" stroke="#000" stroke-width="0.45">As</text>
<rect x="1217.02" y="777.25" width="35.6" height="221" fill="#4a9282" stroke="#1a1a1a" stroke-width="0.9"/>
<line x1="1234.82" y1="1261.8" x2="1234.82" y2="1265.8" stroke="#000" stroke-width="1.5"/>
<text x="1245.82" y="1266.5" font-size="31" text-anchor="end" transform="rotate(-90 1245.82 1266.5)" stroke="#000" stroke-width="0.45">Zn</text>
<rect x="1255.98" y="771.25" width="35.6" height="227" fill="#4a9282" stroke="#1a1a1a" stroke-width="0.9"/>
<line x1="1273.78" y1="1261.8" x2="1273.78" y2="1265.8" stroke="#000" stroke-width="1.5"/>
<text x="1284.78" y="1266.5" font-size="31" text-anchor="end" transform="rotate(-90 1284.78 1266.5)" stroke="#000" stroke-width="0.45">Co</text>
<rect x="1294.94" y="762.25" width="35.6" height="236" fill="#4a9282" stroke="#1a1a1a" stroke-width="0.9"/>
<line x1="1312.74" y1="1261.8" x2="1312.74" y2="1265.8" stroke="#000" stroke-width="1.5"/>
<text x="1323.74" y="1266.5" font-size="31" text-anchor="end" transform="rotate(-90 1323.74 1266.5)" stroke="#000" stroke-width="0.45">Pb</text>
<rect x="1333.89" y="759.25" width="35.6" height="239" fill="#4a9282" stroke="#1a1a1a" stroke-width="0.9"/>
<line x1="1351.69" y1="1261.8" x2="1351.69" y2="1265.8" stroke="#000" stroke-width="1.5"/>
<text x="1362.69" y="1266.5" font-size="31" text-anchor="end" transform="rotate(-90 1362.69 1266.5)" stroke="#000" stroke-width="0.45">Rb</text>
<rect x="1372.85" y="744.25" width="35.6" height="254" fill="#4a9282" stroke="#1a1a1a" stroke-width="0.9"/>
<line x1="1390.64" y1="1261.8" x2="1390.64" y2="1265.8" stroke="#000" stroke-width="1.5"/>
<text x="1401.64" y="1266.5" font-size="31" text-anchor="end" transform="rotate(-90 1401.64 1266.5)" stroke="#000" stroke-width="0.45">Fe</text>
<rect x="1411.8" y="735.5" width="35.6" height="262.75" fill="#4a9282" stroke="#1a1a1a" stroke-width="0.9"/>
<line x1="1429.6" y1="1261.8" x2="1429.6" y2="1265.8" stroke="#000" stroke-width="1.5"/>
<text x="1440.6" y="1266.5" font-size="31" text-anchor="end" transform="rotate(-90 1440.6 1266.5)" stroke="#000" stroke-width="0.45">Cr</text>
<rect x="628" y="711.3" width="824.6" height="550.5" fill="none" stroke="#000" stroke-width="2.2"/>
<line x1="624" y1="848.75" x2="628" y2="848.75" stroke="#000" stroke-width="2"/>
<text x="622" y="860.05" font-size="31.5" text-anchor="end" stroke="#000" stroke-width="0.45">0.5</text>
<line x1="624" y1="998.25" x2="628" y2="998.25" stroke="#000" stroke-width="2"/>
<text x="622" y="1009.55" font-size="31.5" text-anchor="end" stroke="#000" stroke-width="0.45">0.0</text>
<line x1="624" y1="1147.6" x2="628" y2="1147.6" stroke="#000" stroke-width="2"/>
<text x="622" y="1158.9" font-size="31.5" text-anchor="end" stroke="#000" stroke-width="0.45">-0.5</text>
<text x="521" y="985" font-size="36" font-weight="bold" text-anchor="middle" transform="rotate(-90 521 985)" stroke="#000" stroke-width="0.5">Correlation coefficient</text>
<text x="559.5" y="985" font-size="36" font-weight="bold" text-anchor="middle" transform="rotate(-90 559.5 985)" stroke="#000" stroke-width="0.5">vs Precipitation</text>
<text x="1040" y="1337" font-size="35" font-weight="bold" text-anchor="middle" stroke="#000" stroke-width="0.5">Ion</text>
<text x="1470.5" y="749.5" font-size="74" font-weight="bold" stroke="#000" stroke-width="0.5">f</text>
<path d="M1874.89 773.26h0M1940.63 778.34h0M1840.53 794.17h0M1886.25 792.68h0M1880.87 804.63h0M1900.29 806.72h0M1906.27 813.6h0M1909.26 814.19h0M1914.34 811.21h0M1925.69 808.22h0M1846.51 816.58h0M1934.06 818.68h0M1851.59 824.05h0M1852.48 832.42h0M1855.47 833.91h0M1871.91 832.12h0M1880.27 835.41h0M1883.26 838.99h0M1897.3 837.5h0M1965.43 831.52h0M2045.22 827.94h0M1789.8 863.19h0M1863.66 860.38h0M1881.1 864.02h0M1871.45 861.76h0M1884.75 870.16h0M1868.74 855.53h0M1868.64 870.66h0M1916.53 847.72h0M1925.16 875.29h0M1915.35 864.86h0M1900.52 846.91h0M1901.49 853.69h0M1896.71 860.33h0M1908.97 871.64h0M1909.48 854.78h0M1955.5 876.22h0M1950.8 867.61h0M1935.11 853.33h0M1948.59 858.43h0M1925.71 852.73h0M1954.99 858.34h0M1927.87 865.27h0M1978.84 854.53h0M1984.38 869.12h0M1959.1 853.83h0M1958.59 848.25h0M1972.29 859.83h0M1961.27 868.33h0M1964.66 872.91h0M1961.87 858.25h0M1964.43 848.66h0M1988.15 863.88h0M2022.6 864.43h0M1727.63 889.89h0M1745.18 890.8h0M1763.57 902.24h0M1781.75 880.95h0M1803.43 900.78h0M1813.62 882.02h0M1858.14 904.45h0M1841.92 904.74h0M1862.41 894.38h0M1848.64 879.45h0M1843.17 897.4h0M1873.61 900.96h0M1883.75 885.11h0M1867.98 883.17h0M1882.64 901.82h0M1893.34 882.44h0M1879.25 878.15h0M1901.08 887.37h0M1912.91 880.28h0M1906.63 902.97h0M1925.11 895.98h0M1916.47 893.81h0M1900 877.39h0M1896.35 903.54h0M1916.76 905.11h0M1896.45 895.36h0M1910.22 898.17h0M1935.22 906.21h0M1947.71 903.24h0M1947.72 897.37h0M1936.2 896.82h0M1951.49 893.46h0M1944.37 887.77h0M1943.1 894.54h0M1955.37 902.64h0M1977.33 887.95h0M1977.54 893.71h0M1998.62 901.4h0M2017.84 898.76h0M2029.71 883.23h0M2036.2 891.2h0M2033.7 903.85h0M2082.74 876.68h0M1695.64 926.49h0M1692.7 911.3h0M1743.59 925.95h0M1729.73 932.87h0M1726.29 926.12h0M1722.46 919.1h0M1740.61 933.54h0M1772.71 917.71h0M1793.71 915.68h0M1810.24 921.06h0M1831.18 931.59h0M1814.44 911.28h0M1819.63 914.45h0M1842.45 918.6h0M1854.75 920.98h0M1845.47 931.3h0M1865.39 919.75h0M1836.62 910.29h0M1879.52 906.97h0M1890.72 913.32h0M1870.14 907.63h0M1884.73 919.57h0M1884.75 925.8h0M1890.06 934.87h0M1874.07 916.56h0M1877.69 929.89h0M1922.89 908.83h0M1923.68 927.81h0M1899.69 919.78h0M1914.5 933.42h0M1907.07 923.22h0M1924.03 920.08h0M1915.27 912.35h0M1914.98 927.67h0M1932.07 933.12h0M1954.99 935.43h0M1941.74 929.86h0M1951.26 916.64h0M1940.26 907.08h0M1949.87 908.14h0M1979.47 911.39h0M1965.58 929.77h0M1959.77 910.67h0M1971.01 927.85h0M2040.43 926.83h0M2043.59 920.95h0M2043.7 908.8h0M2081.71 921.96h0M2083.77 928.01h0M1675.85 951.73h0M1681.97 952.84h0M1666.08 947.5h0M1682.02 963.02h0M1692.87 961.53h0M1715.58 951.77h0M1703.76 942.11h0M1702.66 951.14h0M1734.61 936.94h0M1745.49 951.53h0M1728.49 960.04h0M1733.34 950.78h0M1745.12 963.7h0M1724.57 950.25h0M1730.76 945.59h0M1752.13 954.57h0M1774.05 939.98h0M1769.69 936.79h0M1752.21 942.9h0M1766.93 945.73h0M1762.25 949.16h0M1787.51 948.46h0M1792.1 940.88h0M1782.39 954.97h0M1795.36 951.93h0M1831.6 954.39h0M1831.77 943.06h0M1828.3 960.33h0M1815.58 963.68h0M1813.32 957.82h0M1813.92 939.01h0M1860.91 948.71h0M1859.65 939.87h0M1848.08 956.58h0M1856.44 963.34h0M1864.98 939.56h0M1841.7 938.22h0M1852.53 951.49h0M1853.04 940.49h0M1861.16 965.7h0M1893.63 938.95h0M1867.78 964.54h0M1879.74 958.96h0M1875.7 950.06h0M1881.33 948.96h0M1883.89 936.5h0M1886.88 961.34h0M1888.02 948.22h0M1901.64 941.04h0M1922.5 960.06h0M1916.87 961.83h0M1914.62 948.2h0M1903.53 963.34h0M1920.15 948.23h0M1952.48 962.4h0M1946.45 959.03h0M1948.56 948.23h0M1947.28 938.22h0M1935.9 950.12h0M1955.89 946.73h0M1974.66 954.75h0M1962.51 964.34h0M2005.36 946.2h0M2005.17 953.13h0M2015.33 955.3h0M2036.29 958.87h0M2044.62 936.79h0M2023 948.11h0M2046.72 941.95h0M2056.44 939.05h0M2082.59 963.17h0M2091.53 951.28h0M1655.78 982.96h0M1651.07 968.27h0M1644.74 988.68h0M1628.23 993.78h0M1631.66 980.09h0M1661.82 980.8h0M1675.02 967.74h0M1685.01 978.56h0M1672.5 983.85h0M1667.69 974.53h0M1665.23 987.4h0M1695.49 966.41h0M1691.32 988.54h0M1698.3 992.81h0M1709.01 967.49h0M1716.19 994.21h0M1688.84 993.05h0M1699.48 980.26h0M1745.6 973.27h0M1732.16 994h0M1738.12 979.98h0M1745.77 990.39h0M1734.56 969.43h0M1722.61 967.54h0M1729.76 985.95h0M1730.14 973.82h0M1763.8 978.53h0M1769.65 981.85h0M1776.22 994.45h0M1768.35 973.11h0M1757.14 974.1h0M1764.09 984.91h0M1753.84 995.26h0M1754.5 978.69h0M1765.03 969.05h0M1748.99 986.2h0M1792.74 984.85h0M1787.44 980.29h0M1782.58 976.26h0M1798.54 991.05h0M1778.51 969.57h0M1800.47 984.63h0M1799.26 972.36h0M1788.97 973.7h0M1795.82 995.55h0M1782.66 985.77h0M1808.61 975.07h0M1827.83 986.73h0M1814.62 970.26h0M1816.86 987.68h0M1833.61 994.08h0M1833.46 979.08h0M1830.16 975.1h0M1815.66 977.93h0M1811.99 982.84h0M1811.44 988.67h0M1862.37 974.4h0M1852.31 982.95h0M1864.93 985.45h0M1852.39 989.54h0M1838.56 968.43h0M1858.07 992.85h0M1870.23 988.27h0M1885.32 973.32h0M1881.51 988.84h0M1877.71 976.08h0M1894.86 986.08h0M1910.56 982.05h0M1917.35 987.15h0M1923.15 978.26h0M1920.73 992.54h0M1924.43 985.12h0M1941.35 987.21h0M1949.66 978.59h0M1938.26 970.36h0M1947.84 995.6h0M1966.79 971h0M1961.68 978.69h0M1964.3 994.97h0M1987.22 975.21h0M1988.88 985.35h0M2038.52 971.35h0M2017.2 979.7h0M2032.79 993.16h0M2046.3 969.24h0M1618.97 1017.3h0M1644.65 1002.56h0M1632.41 1004.27h0M1632.04 1018.51h0M1666.08 1012.25h0M1681.18 1010.2h0M1664.55 1022.39h0M1673.12 1024.47h0M1671.18 1002.47h0M1658.25 1024.18h0M1672.53 1011.28h0M1694.85 1025.46h0M1706.29 1002.97h0M1686.97 1009.99h0M1697.75 1019.68h0M1707.96 1013.98h0M1691.34 1000.56h0M1726.14 1003.62h0M1742.5 1011.29h0M1735.56 1025.55h0M1724.49 1011.84h0M1721.03 1018.89h0M1741.81 1020.44h0M1718.99 1003.94h0M1737.93 998.77h0M1730.87 1009.87h0M1774.96 1013.4h0M1772.02 1004.94h0M1762.64 1011.58h0M1751.11 1020.73h0M1755.71 1005.16h0M1748.68 1005h0M1760.37 1017.24h0M1760.2 1024.76h0M1746.72 1025.5h0M1800.17 1002.05h0M1794.7 1004.55h0M1787.52 1012h0M1785.2 1005.95h0M1804.53 1012.69h0M1780.49 998.69h0M1796.54 1017.03h0M1788.44 998.04h0M1791.57 1015.21h0M1829.08 1020.41h0M1817.7 1005.77h0M1818.48 996.33h0M1818.14 1016.78h0M1835.51 1019.47h0M1825.9 1014.06h0M1806.72 1005.76h0M1810.9 1018.77h0M1833.15 1012.25h0M1846.58 1010.82h0M1840.28 1017.19h0M1865.53 1011.29h0M1857.43 1020.84h0M1841.94 1024.1h0M1854.79 1001.78h0M1838.54 1003.18h0M1853.27 1016.7h0M1863.22 1025.52h0M1860.48 1013.84h0M1869.59 1020.51h0M1874.55 1022.67h0M1873.13 1013.01h0M1890.75 1001.42h0M1882.3 998.15h0M1866.89 1001.25h0M1895.42 1023.94h0M1885.6 1005.06h0M1885.99 1017.91h0M1907.21 1013.56h0M1901.77 1009.86h0M1912.83 1001.06h0M1924.48 1013.8h0M1909.85 1008.16h0M1914.45 1016.47h0M1910.33 1025.59h0M1950.74 1021.42h0M1937.91 1008.84h0M1942.6 1022.92h0M1935.27 997.5h0M1947.56 1013.72h0M1978.04 1004.98h0M2003.19 997.96h0M1989.17 1009.23h0M2000.47 1007.72h0M1987.01 1016.63h0M1994.61 1007.69h0M2022.38 997.92h0M2042.57 1024.75h0M2065.11 1021.76h0M2057.81 1019.93h0M2051.84 1018.18h0M2048.92 1011.93h0M1634.17 1034.69h0M1636.59 1027.62h0M1683.51 1050.12h0M1668.63 1036.4h0M1657.69 1052.6h0M1665.59 1053.32h0M1713.44 1031.59h0M1700.76 1030.89h0M1712.93 1055.5h0M1692.68 1044.65h0M1692.37 1052.05h0M1718.02 1028.92h0M1738.21 1035.1h0M1743.43 1051.74h0M1737.32 1053.77h0M1729.83 1028.11h0M1723.19 1034.93h0M1767.64 1031.62h0M1751.81 1032.79h0M1766.26 1049.37h0M1757.54 1045.53h0M1772.83 1043.38h0M1783.13 1034.74h0M1803.98 1045.68h0M1784.56 1044.87h0M1778.98 1055.13h0M1789.44 1041.54h0M1792.15 1027.11h0M1824.09 1034.25h0M1813.66 1049.75h0M1808.77 1034.27h0M1814.51 1042.13h0M1835.68 1026.76h0M1819.96 1048.18h0M1847.54 1053.52h0M1850.99 1031.13h0M1852.66 1045.02h0M1846.79 1045.42h0M1859.45 1041.19h0M1864.48 1030.95h0M1859.35 1030.69h0M1884.1 1032.78h0M1879.09 1048.85h0M1889.43 1049.39h0M1872.98 1040.37h0M1880.84 1026.81h0M1913.64 1047.11h0M1901.19 1030.29h0M1896.34 1040.58h0M1908.8 1038.95h0M1903.67 1049.61h0M1897.98 1052.86h0M1942.69 1041.98h0M1949.35 1032.86h0M1930.06 1035.04h0M1956.84 1035.14h0M1974.13 1041.45h0M1963.48 1043.34h0M1958.22 1050.27h0M1990.58 1033.37h0M1990.23 1046.39h0M2040.16 1049.26h0M2017.16 1038.02h0M2056.11 1032.22h0M1685.76 1056.89h0M1671.39 1078.38h0M1657.93 1062.82h0M1668.5 1064.54h0M1699.33 1057.92h0M1687.67 1085.4h0M1709.45 1077.57h0M1693.51 1063.2h0M1703.13 1062.85h0M1730.32 1083.5h0M1727.4 1065.7h0M1745.85 1073.89h0M1717.71 1067.68h0M1765.82 1057.38h0M1786.54 1076.39h0M1832 1073.28h0M1817.91 1080.82h0M1812.6 1066.01h0M1841.54 1072.05h0M1840.95 1061.72h0M1872.34 1069.61h0M1895.61 1075.93h0M1921.59 1061.75h0M1907.25 1057.81h0M1916.47 1066.47h0M1901.25 1063.47h0M1937.43 1083.23h0M1947.06 1063.66h0M1996.24 1060.22h0M2043.32 1066.38h0M1649.76 1107.13h0M1653.99 1086.12h0M1666.39 1097h0M1659.25 1111.88h0M1666.48 1108.54h0M1672.28 1087.15h0M1657.98 1090.02h0M1704.43 1086.46h0M1695.97 1098.18h0M1732.78 1089.58h0M1737.64 1093.29h0M1768.08 1105.42h0M1810.57 1091.63h0M1874.31 1106.81h0M2027.45 1097.06h0M1652.76 1122.15h0M1635.61 1125.7h0M1663.21 1116.61h0M1657.49 1134.23h0M1733.44 1139.56h0M1745.68 1124.3h0M1722.98 1135.99h0M1736.44 1143.94h0M1772.35 1122.4h0M1765.31 1118.08h0M1759.19 1127.12h0M1778.08 1126.85h0M1786.09 1130.25h0M1814.53 1120.13h0M1818.19 1129.59h0M1870.91 1135.27h0M2022.5 1118.17h0M2085.31 1128.01h0M1691.15 1162.69h0M1707.6 1161.81h0M1728.22 1156.16h0M1718.4 1157.36h0M1734.03 1159.29h0M1756.13 1152.85h0M1747.11 1155.65h0M1743.17 1192.06h0M1754.23 1195.12h0M1781.84 1189.18h0M1854.43 1203.68h0" fill="none" stroke="#000" stroke-width="5.3" stroke-linecap="round"/>
<line x1="1619.6" y1="1035.7" x2="2102" y2="907.7" stroke="#ee2c1e" stroke-width="4.8"/>
<rect x="1597" y="712" width="527.5" height="526.3" fill="none" stroke="#000" stroke-width="2.2"/>
<line x1="1592" y1="734.25" x2="1597" y2="734.25" stroke="#000" stroke-width="5"/>
<text x="1590" y="746.25" font-size="33" text-anchor="end" stroke="#000" stroke-width="0.45">12.5</text>
<line x1="1592" y1="830.65" x2="1597" y2="830.65" stroke="#000" stroke-width="5"/>
<text x="1590" y="842.65" font-size="33" text-anchor="end" stroke="#000" stroke-width="0.45">10.0</text>
<line x1="1592" y1="927.05" x2="1597" y2="927.05" stroke="#000" stroke-width="5"/>
<text x="1590" y="939.05" font-size="33" text-anchor="end" stroke="#000" stroke-width="0.45">7.5</text>
<line x1="1592" y1="1023.45" x2="1597" y2="1023.45" stroke="#000" stroke-width="5"/>
<text x="1590" y="1035.45" font-size="33" text-anchor="end" stroke="#000" stroke-width="0.45">5.0</text>
<line x1="1592" y1="1119.85" x2="1597" y2="1119.85" stroke="#000" stroke-width="5"/>
<text x="1590" y="1131.85" font-size="33" text-anchor="end" stroke="#000" stroke-width="0.45">2.5</text>
<line x1="1592" y1="1216.25" x2="1597" y2="1216.25" stroke="#000" stroke-width="5"/>
<text x="1590" y="1228.25" font-size="33" text-anchor="end" stroke="#000" stroke-width="0.45">0.0</text>
<line x1="1626.25" y1="1238.3" x2="1626.25" y2="1243.3" stroke="#000" stroke-width="5"/>
<text x="1637.95" y="1247.5" font-size="32.5" text-anchor="end" transform="rotate(-90 1637.95 1247.5)" stroke="#000" stroke-width="0.45">0.65</text>
<line x1="1767.85" y1="1238.3" x2="1767.85" y2="1243.3" stroke="#000" stroke-width="5"/>
<text x="1779.55" y="1247.5" font-size="32.5" text-anchor="end" transform="rotate(-90 1779.55 1247.5)" stroke="#000" stroke-width="0.45">0.70</text>
<line x1="1909.45" y1="1238.3" x2="1909.45" y2="1243.3" stroke="#000" stroke-width="5"/>
<text x="1921.15" y="1247.5" font-size="32.5" text-anchor="end" transform="rotate(-90 1921.15 1247.5)" stroke="#000" stroke-width="0.45">0.75</text>
<line x1="2051.05" y1="1238.3" x2="2051.05" y2="1243.3" stroke="#000" stroke-width="5"/>
<text x="2062.75" y="1247.5" font-size="32.5" text-anchor="end" transform="rotate(-90 2062.75 1247.5)" stroke="#000" stroke-width="0.45">0.80</text>
<text x="1515.5" y="977" font-size="36" font-weight="bold" text-anchor="middle" transform="rotate(-90 1515.5 977)" textLength="397" lengthAdjust="spacingAndGlyphs" stroke="#000" stroke-width="0.5">Dissimilarity soil ionome</text>
<text x="1861.5" y="1338" font-size="33.8" font-weight="bold" text-anchor="middle" stroke="#000" stroke-width="0.5">Dissimilarity soil microbiome</text>
<text x="1724" y="780" font-size="32" text-anchor="middle" stroke="#000" stroke-width="0.45">r = 0.384</text>
<text x="1724" y="827" font-size="32" text-anchor="middle" stroke="#000" stroke-width="0.45">p-value = 1e-04</text>
<rect x="1.6" y="1388.8" width="2124.2" height="391.2" fill="none" stroke="#000" stroke-width="2.4"/>
<text x="14" y="1432.5" font-size="50" font-weight="bold" stroke="#000" stroke-width="0.5">Panel b</text>
<text x="14.5" y="1479.5" font-size="34.5" font-weight="bold" letter-spacing="0.6" stroke="#000" stroke-width="0.5">Phylum</text>
<rect x="16.25" y="1499.5" width="30.8" height="34" fill="#4682b8"/>
<text x="66.5" y="1529.2" font-size="36" stroke="#000" stroke-width="0.45">Acidobacteriota</text>
<rect x="16.25" y="1536.5" width="30.8" height="34" fill="#afc8e8"/>
<text x="66.5" y="1566.2" font-size="36" stroke="#000" stroke-width="0.45">Actinomycetota</text>
<rect x="16.25" y="1573.5" width="30.8" height="34" fill="#f28123"/>
<text x="66.5" y="1603.2" font-size="36" stroke="#000" stroke-width="0.45">Bacteroidota</text>
<rect x="16.25" y="1610.5" width="30.8" height="34" fill="#efb67a"/>
<text x="66.5" y="1640.2" font-size="36" stroke="#000" stroke-width="0.45">Bacillota</text>
<rect x="341.25" y="1499.5" width="30.8" height="34" fill="#46ab34"/>
<text x="391.5" y="1529.2" font-size="36" stroke="#000" stroke-width="0.45">Gemmatimonadota</text>
<rect x="341.25" y="1536.5" width="30.8" height="34" fill="#a0ef8c"/>
<text x="391.5" y="1566.2" font-size="36" stroke="#000" stroke-width="0.45">Planctomycetota</text>
<rect x="341.25" y="1573.5" width="30.8" height="34" fill="#da2d2c"/>
<text x="391.5" y="1603.2" font-size="36" stroke="#000" stroke-width="0.45">Pseudomonadota</text>
<rect x="341.25" y="1610.5" width="30.8" height="34" fill="#d9d9d9"/>
<text x="391.5" y="1640.2" font-size="36" stroke="#000" stroke-width="0.45">Other</text>
<text x="837.5" y="1432.5" font-size="50" font-weight="bold" stroke="#000" stroke-width="0.5">Panel c</text>
<text x="841" y="1485" font-size="41.5" font-weight="bold" letter-spacing="0.7" stroke="#000" stroke-width="0.5">Term</text>
<text x="1134" y="1485" font-size="41.6" font-weight="bold" stroke="#000" stroke-width="0.5">Regions</text>
<rect x="842" y="1499.5" width="39.2" height="39.75" fill="#f7f7f7" stroke="#000" stroke-width="1.1"/>
<text x="901.5" y="1532" font-size="34" font-weight="bold" stroke="#000" stroke-width="0.5">Residual</text>
<rect x="842" y="1539.25" width="39.2" height="39" fill="#f4d9c8" stroke="#000" stroke-width="1.1"/>
<text x="901.5" y="1570" font-size="34" font-weight="bold" stroke="#000" stroke-width="0.5">Soil porosity</text>
<rect x="842" y="1578.25" width="39.2" height="39.25" fill="#e48465" stroke="#000" stroke-width="1.1"/>
<text x="901.5" y="1609.5" font-size="34" font-weight="bold" stroke="#000" stroke-width="0.5">Regions</text>
<rect x="842" y="1617.5" width="39.2" height="39.5" fill="#f0c987" stroke="#000" stroke-width="1.1"/>
<text x="901.5" y="1648.25" font-size="34" font-weight="bold" stroke="#000" stroke-width="0.5">Precipitation</text>
<circle cx="1158" cy="1522" r="21.7" fill="#935a1e" stroke="#000" stroke-width="2.8"/>
<text x="1192.5" y="1533.75" font-size="32.5" font-weight="bold" stroke="#000" stroke-width="0.5">TRI</text>
<circle cx="1158" cy="1576.25" r="21.7" fill="#c39b4f" stroke="#000" stroke-width="2.8"/>
<text x="1192.5" y="1588" font-size="32.5" font-weight="bold" stroke="#000" stroke-width="0.5">SVR</text>
<circle cx="1158" cy="1630.5" r="21.7" fill="#e2d5a5" stroke="#000" stroke-width="2.8"/>
<text x="1192.5" y="1642" font-size="32.5" font-weight="bold" stroke="#000" stroke-width="0.5">HAY</text>
<circle cx="1307" cy="1522" r="21.7" fill="#96d8c8" stroke="#000" stroke-width="2.8"/>
<text x="1342.5" y="1533.75" font-size="32.5" font-weight="bold" stroke="#000" stroke-width="0.5">KNZ</text>
<circle cx="1307" cy="1576.25" r="21.7" fill="#5fab9b" stroke="#000" stroke-width="2.8"/>
<text x="1342.5" y="1588" font-size="32.5" font-weight="bold" stroke="#000" stroke-width="0.5">CWR</text>
<circle cx="1307" cy="1630.5" r="21.7" fill="#357a69" stroke="#000" stroke-width="2.8"/>
<text x="1342.5" y="1642" font-size="32.5" font-weight="bold" stroke="#000" stroke-width="0.5">WEL</text>
<text x="1555.5" y="1432.5" font-size="50" font-weight="bold" stroke="#000" stroke-width="0.5">Panel d</text>
<text x="1668.5" y="1466.75" font-size="37.5" font-weight="bold" text-anchor="middle" stroke="#000" stroke-width="0.5">zscore</text>
<rect x="1559.25" y="1485.5" width="4.16" height="36.25" fill="#4f8dff"/>
<rect x="1562.91" y="1485.5" width="4.16" height="36.25" fill="#5990ff"/>
<rect x="1566.57" y="1485.5" width="4.16" height="36.25" fill="#6193ff"/>
<rect x="1570.22" y="1485.5" width="4.16" height="36.25" fill="#6996fe"/>
<rect x="1573.88" y="1485.5" width="4.16" height="36.25" fill="#719afe"/>
<rect x="1577.54" y="1485.5" width="4.16" height="36.25" fill="#789dfe"/>
<rect x="1581.19" y="1485.5" width="4.16" height="36.25" fill="#7fa0fe"/>
<rect x="1584.85" y="1485.5" width="4.16" height="36.25" fill="#85a4fd"/>
<rect x="1588.51" y="1485.5" width="4.16" height="36.25" fill="#8ba7fd"/>
<rect x="1592.17" y="1485.5" width="4.16" height="36.25" fill="#91abfd"/>
<rect x="1595.83" y="1485.5" width="4.16" height="36.25" fill="#97aefd"/>
<rect x="1599.48" y="1485.5" width="4.16" height="36.25" fill="#9cb2fc"/>
<rect x="1603.14" y="1485.5" width="4.16" height="36.25" fill="#a2b5fc"/>
<rect x="1606.8" y="1485.5" width="4.16" height="36.25" fill="#a7b9fc"/>
<rect x="1610.45" y="1485.5" width="4.16" height="36.25" fill="#acbcfb"/>
<rect x="1614.11" y="1485.5" width="4.16" height="36.25" fill="#b2c0fb"/>
<rect x="1617.77" y="1485.5" width="4.16" height="36.25" fill="#b7c3fb"/>
<rect x="1621.43" y="1485.5" width="4.16" height="36.25" fill="#bcc7fa"/>
<rect x="1625.09" y="1485.5" width="4.16" height="36.25" fill="#c1cafa"/>
<rect x="1628.74" y="1485.5" width="4.16" height="36.25" fill="#c5cefa"/>
<rect x="1632.4" y="1485.5" width="4.16" height="36.25" fill="#cad2f9"/>
<rect x="1636.06" y="1485.5" width="4.16" height="36.25" fill="#cfd5f9"/>
<rect x="1639.71" y="1485.5" width="4.16" height="36.25" fill="#d3d9f8"/>
<rect x="1643.37" y="1485.5" width="4.16" height="36.25" fill="#d8ddf8"/>
<rect x="1647.03" y="1485.5" width="4.16" height="36.25" fill="#dde0f8"/>
<rect x="1650.69" y="1485.5" width="4.16" height="36.25" fill="#e1e4f7"/>
<rect x="1654.35" y="1485.5" width="4.16" height="36.25" fill="#e6e8f7"/>
<rect x="1658" y="1485.5" width="4.16" height="36.25" fill="#eaecf6"/>
<rect x="1661.66" y="1485.5" width="4.16" height="36.25" fill="#eeeff6"/>
<rect x="1665.32" y="1485.5" width="4.16" height="36.25" fill="#f3f3f5"/>
<rect x="1668.98" y="1485.5" width="4.16" height="36.25" fill="#f5f2f2"/>
<rect x="1672.63" y="1485.5" width="4.16" height="36.25" fill="#f4eceb"/>
<rect x="1676.29" y="1485.5" width="4.16" height="36.25" fill="#f4e7e5"/>
<rect x="1679.95" y="1485.5" width="4.16" height="36.25" fill="#f3e1df"/>
<rect x="1683.61" y="1485.5" width="4.16" height="36.25" fill="#f3dcd8"/>
<rect x="1687.26" y="1485.5" width="4.16" height="36.25" fill="#f2d6d2"/>
<rect x="1690.92" y="1485.5" width="4.16" height="36.25" fill="#f2d0cb"/>
<rect x="1694.58" y="1485.5" width="4.16" height="36.25" fill="#f1cac5"/>
<rect x="1698.24" y="1485.5" width="4.16" height="36.25" fill="#f1c5bf"/>
<rect x="1701.89" y="1485.5" width="4.16" height="36.25" fill="#f0bfb8"/>
<rect x="1705.55" y="1485.5" width="4.16" height="36.25" fill="#f0bab2"/>
<rect x="1709.21" y="1485.5" width="4.16" height="36.25" fill="#efb4ab"/>
<rect x="1712.87" y="1485.5" width="4.16" height="36.25" fill="#efaea5"/>
<rect x="1716.52" y="1485.5" width="4.16" height="36.25" fill="#eea89f"/>
<rect x="1720.18" y="1485.5" width="4.16" height="36.25" fill="#eea398"/>
<rect x="1723.84" y="1485.5" width="4.16" height="36.25" fill="#ed9d92"/>
<rect x="1727.5" y="1485.5" width="4.16" height="36.25" fill="#ed978b"/>
<rect x="1731.15" y="1485.5" width="4.16" height="36.25" fill="#ec9285"/>
<rect x="1734.81" y="1485.5" width="4.16" height="36.25" fill="#ec8c7f"/>
<rect x="1738.47" y="1485.5" width="4.16" height="36.25" fill="#eb8678"/>
<rect x="1742.12" y="1485.5" width="4.16" height="36.25" fill="#eb8172"/>
<rect x="1745.78" y="1485.5" width="4.16" height="36.25" fill="#ea7b6b"/>
<rect x="1749.44" y="1485.5" width="4.16" height="36.25" fill="#ea7665"/>
<rect x="1753.1" y="1485.5" width="4.16" height="36.25" fill="#e9705f"/>
<rect x="1756.76" y="1485.5" width="4.16" height="36.25" fill="#e96a58"/>
<rect x="1760.41" y="1485.5" width="4.16" height="36.25" fill="#e86452"/>
<rect x="1764.07" y="1485.5" width="4.16" height="36.25" fill="#e85f4b"/>
<rect x="1767.73" y="1485.5" width="4.16" height="36.25" fill="#e75945"/>
<rect x="1771.38" y="1485.5" width="4.16" height="36.25" fill="#e7543f"/>
<rect x="1775.04" y="1485.5" width="4.16" height="36.25" fill="#e64e38"/>
<rect x="1559.25" y="1485.5" width="219.45" height="36.25" fill="none" stroke="#1a1a1a" stroke-width="1"/>
<line x1="1596.25" y1="1485.5" x2="1596.25" y2="1492.5" stroke="#1a1a1a" stroke-width="1.3"/>
<line x1="1596.25" y1="1514.75" x2="1596.25" y2="1521.75" stroke="#1a1a1a" stroke-width="1.3"/>
<text x="1594.25" y="1562.2" font-size="32" text-anchor="middle" stroke="#000" stroke-width="0.45">-1</text>
<line x1="1669.1" y1="1485.5" x2="1669.1" y2="1492.5" stroke="#1a1a1a" stroke-width="1.3"/>
<line x1="1669.1" y1="1514.75" x2="1669.1" y2="1521.75" stroke="#1a1a1a" stroke-width="1.3"/>
<text x="1669.1" y="1562.2" font-size="32" text-anchor="middle" stroke="#000" stroke-width="0.45">0</text>
<line x1="1741.75" y1="1485.5" x2="1741.75" y2="1492.5" stroke="#1a1a1a" stroke-width="1.3"/>
<line x1="1741.75" y1="1514.75" x2="1741.75" y2="1521.75" stroke="#1a1a1a" stroke-width="1.3"/>
<text x="1741.75" y="1562.2" font-size="32" text-anchor="middle" stroke="#000" stroke-width="0.45">1</text>
<text x="1555.5" y="1630" font-size="50" font-weight="bold" stroke="#000" stroke-width="0.5">Panel e</text>
<rect x="1558.75" y="1649.5" width="21.8" height="36.3" fill="#e8e0e0"/>
<text x="1590" y="1681.75" font-size="36.5" font-weight="bold" stroke="#000" stroke-width="0.5">Not Significant</text>
<rect x="1558.75" y="1688" width="21.8" height="36.3" fill="#c39b4f"/>
<text x="1590" y="1720.75" font-size="36.5" font-weight="bold" stroke="#000" stroke-width="0.5">Negative correlation (<tspan font-style="italic">p</tspan> &lt; 0.05)</text>
<rect x="1558.75" y="1727" width="21.8" height="36.3" fill="#5fab9b"/>
<text x="1590" y="1759.5" font-size="36.5" font-weight="bold" stroke="#000" stroke-width="0.5">Positive correlation (<tspan font-style="italic">p</tspan> &lt; 0.05)</text>
</svg>
</body>
</html>
